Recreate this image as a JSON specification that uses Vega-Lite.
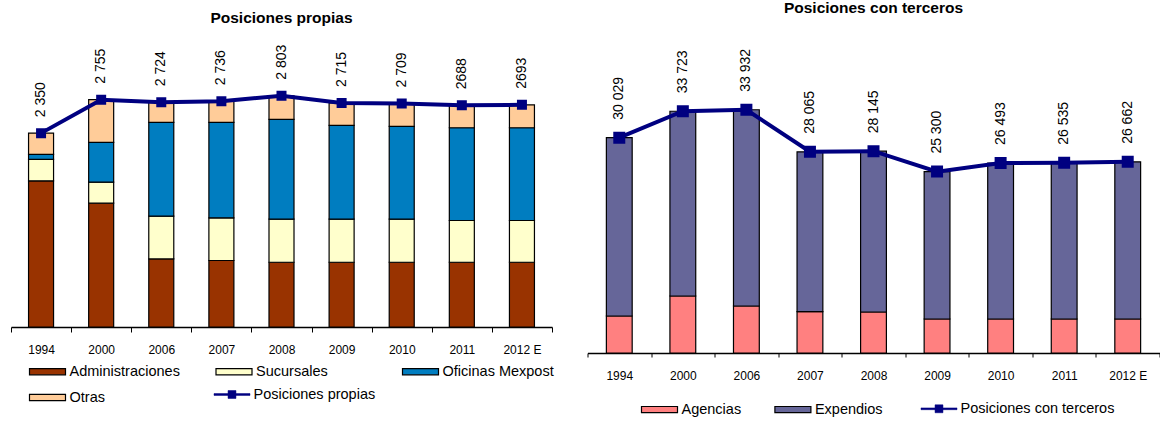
{
  "$schema": "https://vega.github.io/schema/vega-lite/v6.json",
  "padding": {"left": 10, "top": 1, "right": 0, "bottom": 0},
  "config": {
    "font": "Liberation Sans",
    "view": {"stroke": null},
    "axis": {"grid": false, "labelFont": "Liberation Sans", "labelColor": "#000", "domainColor": "#000", "tickColor": "#000"},
    "legend": {"labelFont": "Liberation Sans", "labelColor": "#000", "labelFontSize": 14.5, "labelOffset": 3, "title": null},
    "title": {"font": "Liberation Sans", "color": "#000"}
  },
  "datasets": {
    "propias": [
      {"anio": "1994", "serie": "Administraciones", "valor": 1772, "orden": 1},
      {"anio": "1994", "serie": "Sucursales", "valor": 260, "orden": 2},
      {"anio": "1994", "serie": "Oficinas Mexpost", "valor": 61, "orden": 3},
      {"anio": "1994", "serie": "Otras", "valor": 257, "orden": 4},
      {"anio": "2000", "serie": "Administraciones", "valor": 1501, "orden": 1},
      {"anio": "2000", "serie": "Sucursales", "valor": 255, "orden": 2},
      {"anio": "2000", "serie": "Oficinas Mexpost", "valor": 482, "orden": 3},
      {"anio": "2000", "serie": "Otras", "valor": 517, "orden": 4},
      {"anio": "2006", "serie": "Administraciones", "valor": 825, "orden": 1},
      {"anio": "2006", "serie": "Sucursales", "valor": 518, "orden": 2},
      {"anio": "2006", "serie": "Oficinas Mexpost", "valor": 1137, "orden": 3},
      {"anio": "2006", "serie": "Otras", "valor": 244, "orden": 4},
      {"anio": "2007", "serie": "Administraciones", "valor": 806, "orden": 1},
      {"anio": "2007", "serie": "Sucursales", "valor": 517, "orden": 2},
      {"anio": "2007", "serie": "Oficinas Mexpost", "valor": 1158, "orden": 3},
      {"anio": "2007", "serie": "Otras", "valor": 255, "orden": 4},
      {"anio": "2008", "serie": "Administraciones", "valor": 785, "orden": 1},
      {"anio": "2008", "serie": "Sucursales", "valor": 522, "orden": 2},
      {"anio": "2008", "serie": "Oficinas Mexpost", "valor": 1210, "orden": 3},
      {"anio": "2008", "serie": "Otras", "valor": 286, "orden": 4},
      {"anio": "2009", "serie": "Administraciones", "valor": 785, "orden": 1},
      {"anio": "2009", "serie": "Sucursales", "valor": 522, "orden": 2},
      {"anio": "2009", "serie": "Oficinas Mexpost", "valor": 1137, "orden": 3},
      {"anio": "2009", "serie": "Otras", "valor": 271, "orden": 4},
      {"anio": "2010", "serie": "Administraciones", "valor": 785, "orden": 1},
      {"anio": "2010", "serie": "Sucursales", "valor": 522, "orden": 2},
      {"anio": "2010", "serie": "Oficinas Mexpost", "valor": 1125, "orden": 3},
      {"anio": "2010", "serie": "Otras", "valor": 277, "orden": 4},
      {"anio": "2011", "serie": "Administraciones", "valor": 785, "orden": 1},
      {"anio": "2011", "serie": "Sucursales", "valor": 506, "orden": 2},
      {"anio": "2011", "serie": "Oficinas Mexpost", "valor": 1124, "orden": 3},
      {"anio": "2011", "serie": "Otras", "valor": 273, "orden": 4},
      {"anio": "2012 E", "serie": "Administraciones", "valor": 785, "orden": 1},
      {"anio": "2012 E", "serie": "Sucursales", "valor": 506, "orden": 2},
      {"anio": "2012 E", "serie": "Oficinas Mexpost", "valor": 1124, "orden": 3},
      {"anio": "2012 E", "serie": "Otras", "valor": 278, "orden": 4}
    ],
    "propias_total": [
      {"anio": "1994", "total": 2350, "etiqueta": "2 350"},
      {"anio": "2000", "total": 2755, "etiqueta": "2 755"},
      {"anio": "2006", "total": 2724, "etiqueta": "2 724"},
      {"anio": "2007", "total": 2736, "etiqueta": "2 736"},
      {"anio": "2008", "total": 2803, "etiqueta": "2 803"},
      {"anio": "2009", "total": 2715, "etiqueta": "2 715"},
      {"anio": "2010", "total": 2709, "etiqueta": "2 709"},
      {"anio": "2011", "total": 2688, "etiqueta": "2688"},
      {"anio": "2012 E", "total": 2693, "etiqueta": "2693"}
    ],
    "terceros": [
      {"anio": "1994", "serie": "Agencias", "valor": 5160, "orden": 1},
      {"anio": "1994", "serie": "Expendios", "valor": 24869, "orden": 2},
      {"anio": "2000", "serie": "Agencias", "valor": 7950, "orden": 1},
      {"anio": "2000", "serie": "Expendios", "valor": 25773, "orden": 2},
      {"anio": "2006", "serie": "Agencias", "valor": 6555, "orden": 1},
      {"anio": "2006", "serie": "Expendios", "valor": 27377, "orden": 2},
      {"anio": "2007", "serie": "Agencias", "valor": 5760, "orden": 1},
      {"anio": "2007", "serie": "Expendios", "valor": 22305, "orden": 2},
      {"anio": "2008", "serie": "Agencias", "valor": 5718, "orden": 1},
      {"anio": "2008", "serie": "Expendios", "valor": 22427, "orden": 2},
      {"anio": "2009", "serie": "Agencias", "valor": 4742, "orden": 1},
      {"anio": "2009", "serie": "Expendios", "valor": 20558, "orden": 2},
      {"anio": "2010", "serie": "Agencias", "valor": 4742, "orden": 1},
      {"anio": "2010", "serie": "Expendios", "valor": 21751, "orden": 2},
      {"anio": "2011", "serie": "Agencias", "valor": 4742, "orden": 1},
      {"anio": "2011", "serie": "Expendios", "valor": 21793, "orden": 2},
      {"anio": "2012 E", "serie": "Agencias", "valor": 4742, "orden": 1},
      {"anio": "2012 E", "serie": "Expendios", "valor": 21920, "orden": 2}
    ],
    "terceros_total": [
      {"anio": "1994", "total": 30029, "etiqueta": "30 029"},
      {"anio": "2000", "total": 33723, "etiqueta": "33 723"},
      {"anio": "2006", "total": 33932, "etiqueta": "33 932"},
      {"anio": "2007", "total": 28065, "etiqueta": "28 065"},
      {"anio": "2008", "total": 28145, "etiqueta": "28 145"},
      {"anio": "2009", "total": 25300, "etiqueta": "25 300"},
      {"anio": "2010", "total": 26493, "etiqueta": "26 493"},
      {"anio": "2011", "total": 26535, "etiqueta": "26 535"},
      {"anio": "2012 E", "total": 26662, "etiqueta": "26 662"}
    ]
  },
  "bounds": "flush",
  "spacing": 35.5,
  "resolve": {
    "scale": {"fill": "independent", "stroke": "independent", "x": "independent", "y": "independent"},
    "legend": {"fill": "independent", "stroke": "independent"}
  },
  "hconcat": [
    {
      "width": 541,
      "height": 264,
      "title": {"text": "Posiciones propias", "fontSize": 15.5, "fontWeight": "bold", "frame": "group", "anchor": "middle", "offset": 18.5},
      "layer": [
        {
          "data": {"name": "propias"},
          "mark": {"type": "bar", "stroke": "#000", "strokeWidth": 1.2, "width": {"band": 0.416}},
          "encoding": {
            "x": {"field": "anio", "type": "nominal", "sort": null, "scale": {"paddingInner": 0, "paddingOuter": 0},
                  "axis": {"title": null, "labelAngle": 0, "labelFontSize": 12, "labelPadding": 12.5, "domainWidth": 1.5, "tickWidth": 1, "tickSize": 5, "tickBand": "extent"}},
            "y": {"field": "valor", "type": "quantitative", "stack": "zero", "scale": {"domain": [0, 3200], "nice": false, "zero": true}, "axis": null},
            "fill": {"field": "serie", "type": "nominal", "sort": ["Administraciones", "Sucursales", "Oficinas Mexpost", "Otras"],
                     "scale": {"domain": ["Administraciones", "Sucursales", "Oficinas Mexpost", "Otras"], "range": ["#993300", "#FFFFCC", "#007DC0", "#FFCC99"]},
                     "legend": {"orient": "none", "legendX": 17.5, "legendY": 289.5, "direction": "horizontal", "columns": 3, "gridAlign": "all", "columnPadding": 31.5, "rowPadding": -1,
                                "values": ["Administraciones", "Sucursales", "Oficinas Mexpost", "Otras"],
                                "symbolType": "M-1,-0.17H1V0.17H-1Z", "symbolSize": 1296, "symbolStrokeColor": "#000", "symbolStrokeWidth": 1.2, "symbolOpacity": 1}},
            "order": {"field": "orden", "type": "quantitative"}
          }
        },
        {
          "data": {"name": "propias_total"},
          "mark": {"type": "line", "strokeWidth": 4, "point": {"shape": "square", "size": 64, "filled": true, "fill": "#000080"}},
          "encoding": {
            "x": {"field": "anio", "type": "nominal", "sort": null},
            "y": {"field": "total", "type": "quantitative"},
            "stroke": {"datum": "Posiciones propias", "scale": {"range": ["#000080"]},
                       "legend": {"orient": "none", "legendX": 202.5, "legendY": 313, "symbolType": "M-1,-0.05H1V0.05H-1Z M-0.22,-0.22H0.22V0.22H-0.22Z", "symbolSize": 1296, "symbolFillColor": "#000080", "symbolStrokeWidth": 0.5}}
          }
        },
        {
          "data": {"name": "propias_total"},
          "mark": {"type": "text", "angle": 270, "align": "left", "baseline": "middle", "dx": 16, "fontSize": 14, "color": "#000"},
          "encoding": {
            "x": {"field": "anio", "type": "nominal", "sort": null},
            "y": {"field": "total", "type": "quantitative"},
            "text": {"field": "etiqueta"}
          }
        }
      ]
    },
    {
      "width": 572,
      "height": 290,
      "title": {"text": "Posiciones con terceros", "fontSize": 15.5, "fontWeight": "bold", "frame": "group", "anchor": "middle", "offset": 32},
      "layer": [
        {
          "data": {"name": "terceros"},
          "mark": {"type": "bar", "stroke": "#000", "strokeWidth": 1.2, "width": {"band": 0.406}},
          "encoding": {
            "x": {"field": "anio", "type": "nominal", "sort": null, "scale": {"paddingInner": 0, "paddingOuter": 0},
                  "axis": {"title": null, "labelAngle": 0, "labelFontSize": 12, "labelPadding": 13.3, "domainWidth": 1.5, "tickWidth": 1, "tickSize": 4, "tickBand": "extent"}},
            "y": {"field": "valor", "type": "quantitative", "stack": "zero", "scale": {"domain": [0, 40450], "nice": false, "zero": true}, "axis": null},
            "fill": {"field": "serie", "type": "nominal",
                     "scale": {"domain": ["Agencias", "Expendios"], "range": ["#FF8080", "#666699"]},
                     "legend": {"orient": "none", "legendX": 53, "legendY": 327.3, "direction": "horizontal", "columnPadding": 30.4,
                                "symbolType": "M-1,-0.17H1V0.17H-1Z", "symbolSize": 1296, "symbolStrokeColor": "#000", "symbolStrokeWidth": 1.2, "symbolOpacity": 1}},
            "order": {"field": "orden", "type": "quantitative"}
          }
        },
        {
          "data": {"name": "terceros_total"},
          "mark": {"type": "line", "strokeWidth": 4, "point": {"shape": "square", "size": 100, "filled": true, "fill": "#000080"}},
          "encoding": {
            "x": {"field": "anio", "type": "nominal", "sort": null},
            "y": {"field": "total", "type": "quantitative"},
            "stroke": {"datum": "Posiciones con terceros", "scale": {"range": ["#000080"]},
                       "legend": {"orient": "none", "legendX": 333, "legendY": 327.3, "symbolType": "M-1,-0.05H1V0.05H-1Z M-0.22,-0.22H0.22V0.22H-0.22Z", "symbolSize": 1296, "symbolFillColor": "#000080", "symbolStrokeWidth": 0.5}}
          }
        },
        {
          "data": {"name": "terceros_total"},
          "mark": {"type": "text", "angle": 270, "align": "left", "baseline": "middle", "dx": 18, "fontSize": 14, "color": "#000"},
          "encoding": {
            "x": {"field": "anio", "type": "nominal", "sort": null},
            "y": {"field": "total", "type": "quantitative"},
            "text": {"field": "etiqueta"}
          }
        }
      ]
    }
  ]
}
